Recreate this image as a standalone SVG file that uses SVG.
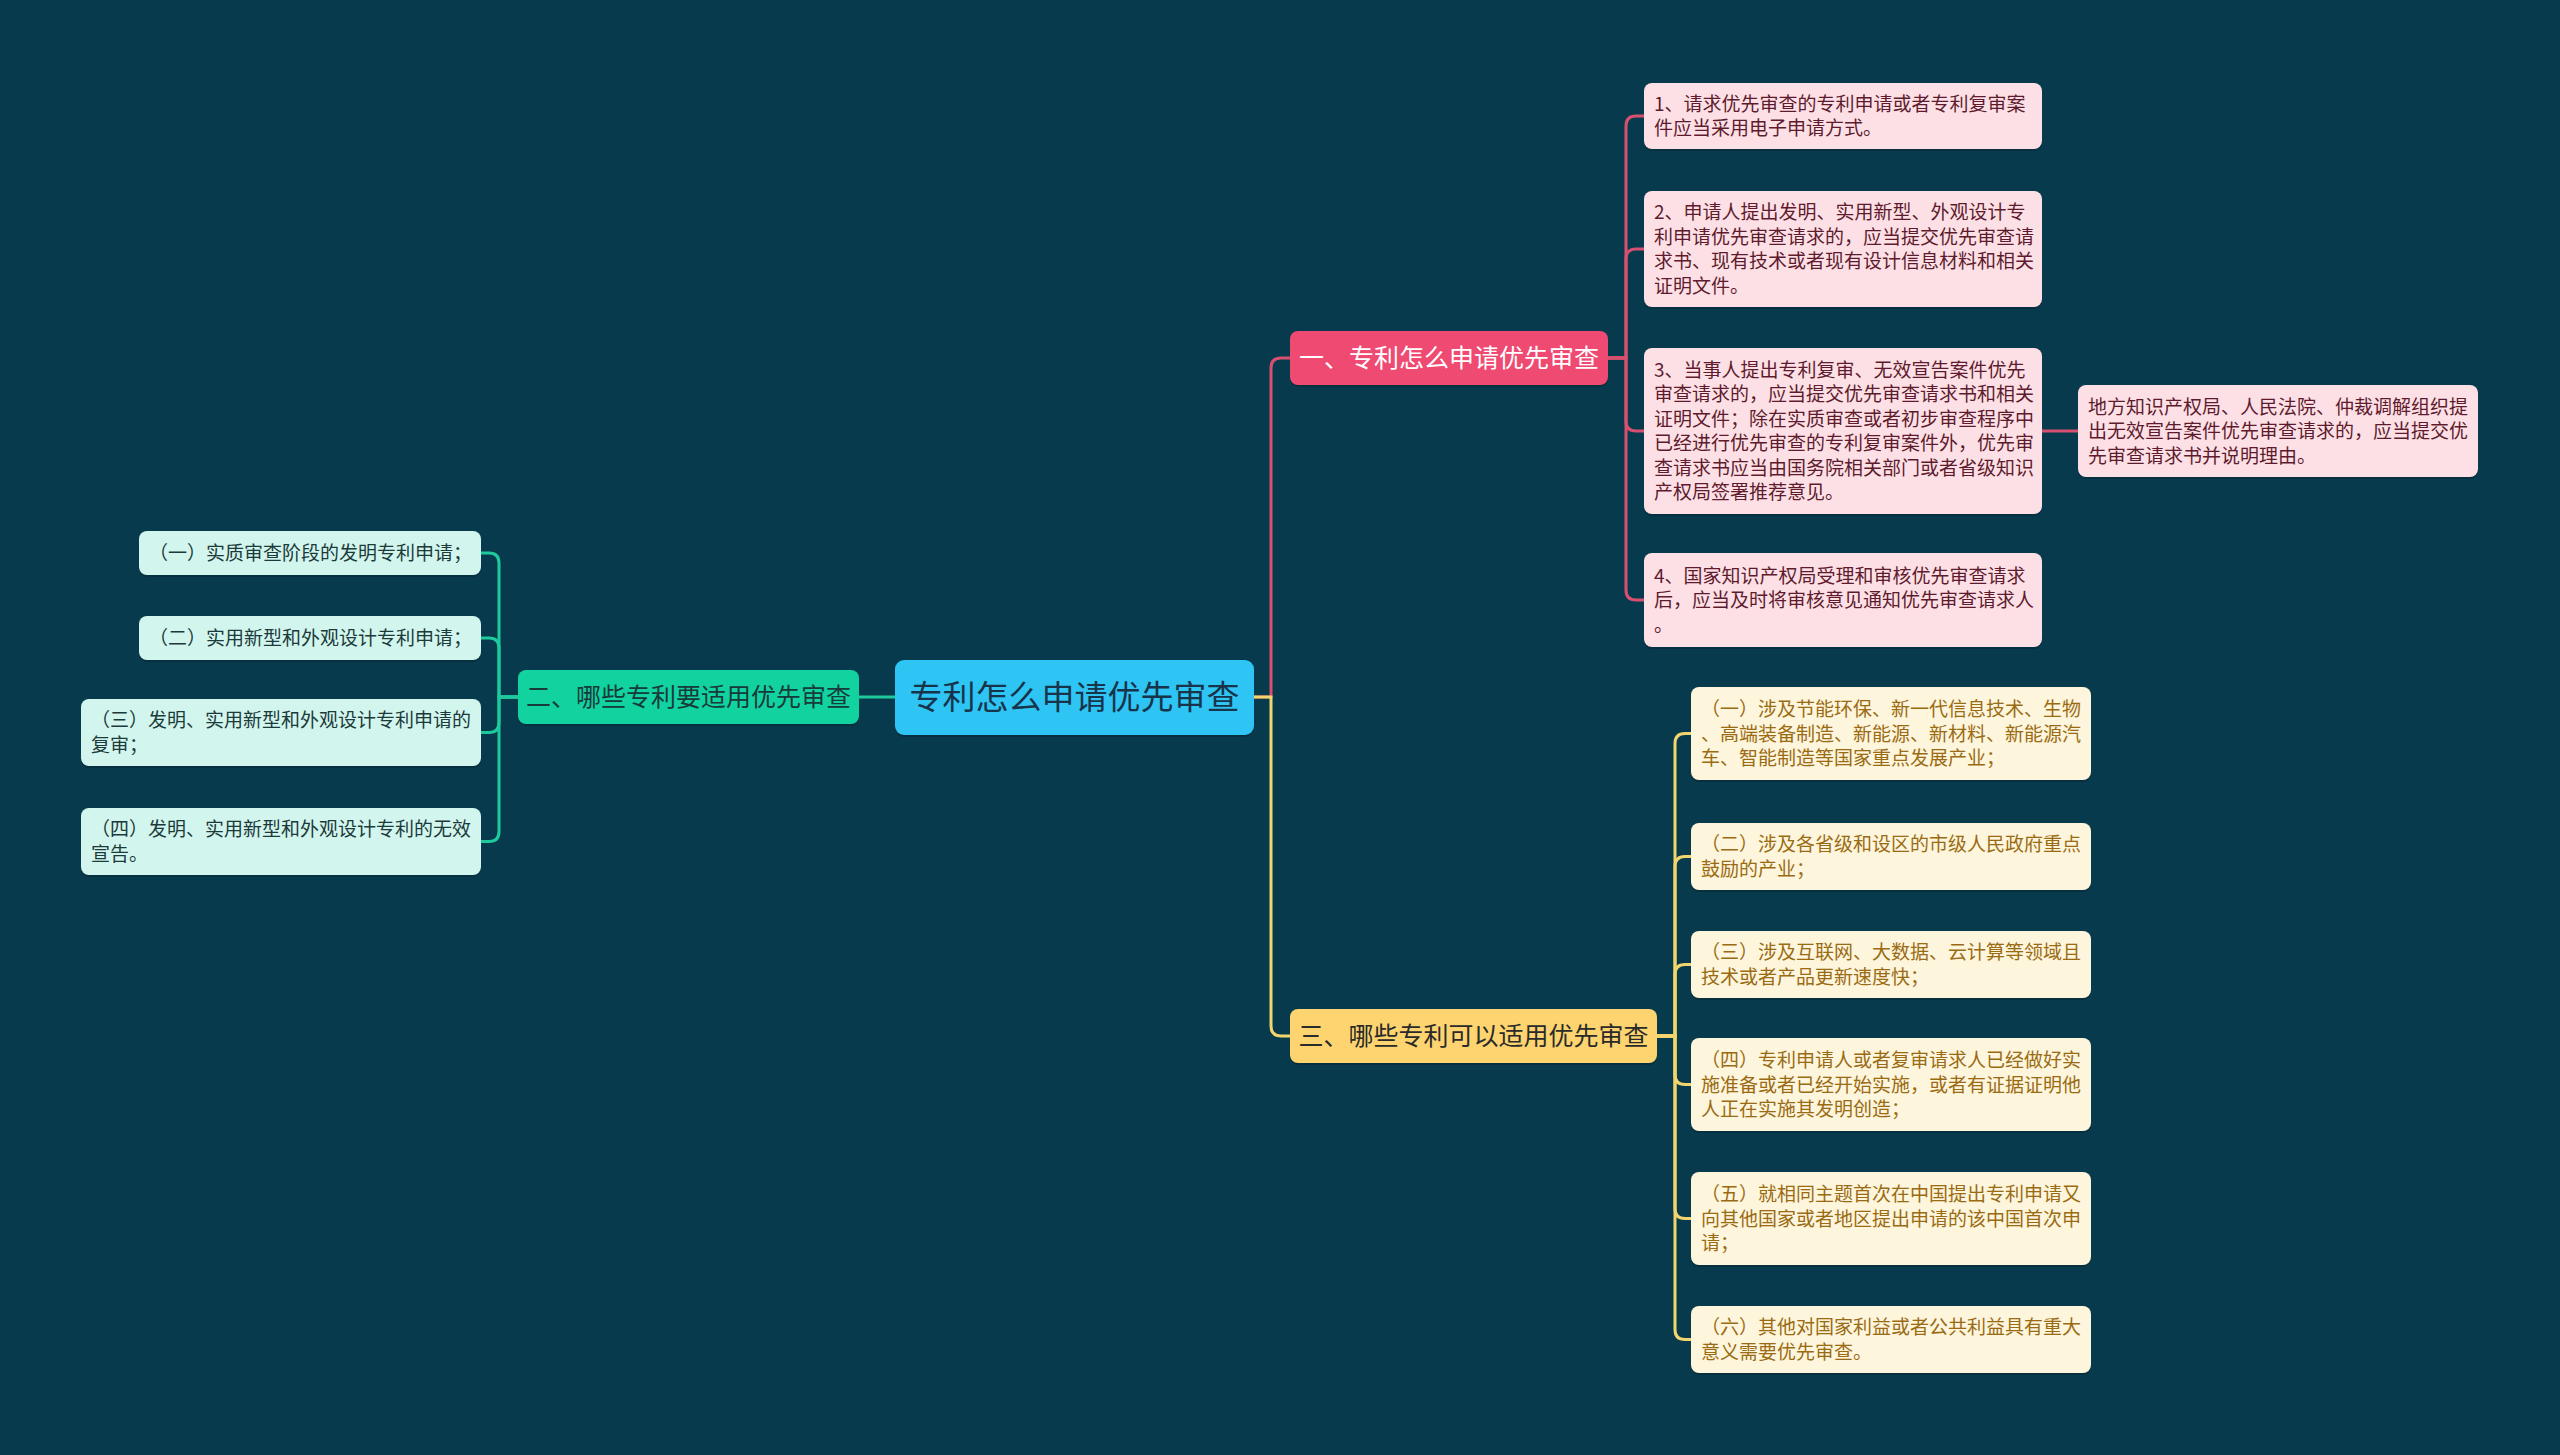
<svg xmlns="http://www.w3.org/2000/svg" width="2560" height="1455" viewBox="0 0 2560 1455">
<defs>
<style>
text{font-family:"Noto Sans CJK SC","Noto Sans",sans-serif;}
.sh{fill:#000;opacity:0.18;}
.root{fill:#2ec4f3;}
.rt{font-size:33px;fill:#17344a;}
.b1{fill:#ef4a72;}
.b1t{font-size:25px;fill:#ffffff;}
.b2{fill:#12d29f;}
.b2t{font-size:25px;fill:#173a3a;}
.b3{fill:#fdd46f;}
.b3t{font-size:25px;fill:#2a2a2a;}
.pk{fill:#fde0e6;}
.pkt{font-size:19px;fill:#5e1b2d;}
.cr{fill:#fdf5dc;}
.crt{font-size:19px;fill:#9a6b12;}
.mt{fill:#d2f6ee;}
.mtt{font-size:19px;fill:#1c3a3a;}
.lp{fill:none;stroke:#d8506f;stroke-width:3;}
.lg{fill:none;stroke:#1ec99b;stroke-width:3;}
.ly{fill:none;stroke:#f2d56c;stroke-width:3;}
</style>
</defs>
<rect width="2560" height="1455" fill="#083a4d"/>

<g id="connectors">
<path class="lp" d="M1254 697 H1271 V368 Q1271 358 1281 358 H1290"/>
<path class="ly" d="M1254 697 H1271 V1026 Q1271 1036 1281 1036 H1290"/>
<path class="lg" d="M895 697 H859"/>
<path class="lp" d="M1608 358 H1626 V126 Q1626 116 1636 116 H1644"/>
<path class="lp" d="M1608 358 H1626 V259 Q1626 249 1636 249 H1644"/>
<path class="lp" d="M1608 358 H1626 V421 Q1626 431 1636 431 H1644"/>
<path class="lp" d="M1608 358 H1626 V590 Q1626 600 1636 600 H1644"/>
<path class="lp" d="M2042 431 H2078"/>
<path class="ly" d="M1657 1036 H1675 V743.5 Q1675 733.5 1685 733.5 H1691"/>
<path class="ly" d="M1657 1036 H1675 V866.5 Q1675 856.5 1685 856.5 H1691"/>
<path class="ly" d="M1657 1036 H1675 V974.5 Q1675 964.5 1685 964.5 H1691"/>
<path class="ly" d="M1657 1036 H1675 V1074.5 Q1675 1084.5 1685 1084.5 H1691"/>
<path class="ly" d="M1657 1036 H1675 V1208.5 Q1675 1218.5 1685 1218.5 H1691"/>
<path class="ly" d="M1657 1036 H1675 V1329.5 Q1675 1339.5 1685 1339.5 H1691"/>
<path class="lg" d="M518 697 H499 V563 Q499 553 489 553 H481"/>
<path class="lg" d="M518 697 H499 V648 Q499 638 489 638 H481"/>
<path class="lg" d="M518 697 H499 V722.5 Q499 732.5 489 732.5 H481"/>
<path class="lg" d="M518 697 H499 V831.5 Q499 841.5 489 841.5 H481"/>
</g>

<g id="root">
<rect class="sh" x="895" y="662" width="359" height="75" rx="9"/>
<rect class="root" x="895" y="660" width="359" height="75" rx="9"/>
<text class="rt" x="1074.5" y="709" text-anchor="middle">专利怎么申请优先审查</text>
</g>

<g id="branch1">
<rect class="sh" x="1290" y="333" width="318" height="54" rx="8"/>
<rect class="b1" x="1290" y="331" width="318" height="54" rx="8"/>
<text class="b1t" x="1449" y="367" text-anchor="middle">一、专利怎么申请优先审查</text>
</g>

<g id="branch2">
<rect class="sh" x="518" y="672" width="341" height="54" rx="8"/>
<rect class="b2" x="518" y="670" width="341" height="54" rx="8"/>
<text class="b2t" x="688.5" y="706" text-anchor="middle">二、哪些专利要适用优先审查</text>
</g>

<g id="branch3">
<rect class="sh" x="1290" y="1011" width="367" height="54" rx="8"/>
<rect class="b3" x="1290" y="1009" width="367" height="54" rx="8"/>
<text class="b3t" x="1473.5" y="1045" text-anchor="middle">三、哪些专利可以适用优先审查</text>
</g>

<g id="p1">
<rect class="sh" x="1644" y="85" width="398" height="66" rx="8"/>
<rect class="pk" x="1644" y="83" width="398" height="66" rx="8"/>
<text class="pkt" x="1654" y="110.75">1、请求优先审查的专利申请或者专利复审案</text>
<text class="pkt" x="1654" y="135.25">件应当采用电子申请方式。</text>
</g>

<g id="p2">
<rect class="sh" x="1644" y="193" width="398" height="116" rx="8"/>
<rect class="pk" x="1644" y="191" width="398" height="116" rx="8"/>
<text class="pkt" x="1654" y="219.25">2、申请人提出发明、实用新型、外观设计专</text>
<text class="pkt" x="1654" y="243.75">利申请优先审查请求的，应当提交优先审查请</text>
<text class="pkt" x="1654" y="268.25">求书、现有技术或者现有设计信息材料和相关</text>
<text class="pkt" x="1654" y="292.75">证明文件。</text>
</g>

<g id="p3">
<rect class="sh" x="1644" y="350" width="398" height="166" rx="8"/>
<rect class="pk" x="1644" y="348" width="398" height="166" rx="8"/>
<text class="pkt" x="1654" y="376.75">3、当事人提出专利复审、无效宣告案件优先</text>
<text class="pkt" x="1654" y="401.25">审查请求的，应当提交优先审查请求书和相关</text>
<text class="pkt" x="1654" y="425.75">证明文件；除在实质审查或者初步审查程序中</text>
<text class="pkt" x="1654" y="450.25">已经进行优先审查的专利复审案件外，优先审</text>
<text class="pkt" x="1654" y="474.75">查请求书应当由国务院相关部门或者省级知识</text>
<text class="pkt" x="1654" y="499.25">产权局签署推荐意见。</text>
</g>

<g id="p3a">
<rect class="sh" x="2078" y="387" width="400" height="92" rx="8"/>
<rect class="pk" x="2078" y="385" width="400" height="92" rx="8"/>
<text class="pkt" x="2088" y="413.5">地方知识产权局、人民法院、仲裁调解组织提</text>
<text class="pkt" x="2088" y="438">出无效宣告案件优先审查请求的，应当提交优</text>
<text class="pkt" x="2088" y="462.5">先审查请求书并说明理由。</text>
</g>

<g id="p4">
<rect class="sh" x="1644" y="555" width="398" height="94" rx="8"/>
<rect class="pk" x="1644" y="553" width="398" height="94" rx="8"/>
<text class="pkt" x="1654" y="582.5">4、国家知识产权局受理和审核优先审查请求</text>
<text class="pkt" x="1654" y="607">后，应当及时将审核意见通知优先审查请求人</text>
<text class="pkt" x="1654" y="631.5">。</text>
</g>

<g id="c1">
<rect class="sh" x="1691" y="689" width="400" height="93" rx="8"/>
<rect class="cr" x="1691" y="687" width="400" height="93" rx="8"/>
<text class="crt" x="1701" y="716">（一）涉及节能环保、新一代信息技术、生物</text>
<text class="crt" x="1701" y="740.5">、高端装备制造、新能源、新材料、新能源汽</text>
<text class="crt" x="1701" y="765">车、智能制造等国家重点发展产业；</text>
</g>

<g id="c2">
<rect class="sh" x="1691" y="825" width="400" height="67" rx="8"/>
<rect class="cr" x="1691" y="823" width="400" height="67" rx="8"/>
<text class="crt" x="1701" y="851.25">（二）涉及各省级和设区的市级人民政府重点</text>
<text class="crt" x="1701" y="875.75">鼓励的产业；</text>
</g>

<g id="c3">
<rect class="sh" x="1691" y="933" width="400" height="67" rx="8"/>
<rect class="cr" x="1691" y="931" width="400" height="67" rx="8"/>
<text class="crt" x="1701" y="959.25">（三）涉及互联网、大数据、云计算等领域且</text>
<text class="crt" x="1701" y="983.75">技术或者产品更新速度快；</text>
</g>

<g id="c4">
<rect class="sh" x="1691" y="1040" width="400" height="93" rx="8"/>
<rect class="cr" x="1691" y="1038" width="400" height="93" rx="8"/>
<text class="crt" x="1701" y="1067">（四）专利申请人或者复审请求人已经做好实</text>
<text class="crt" x="1701" y="1091.5">施准备或者已经开始实施，或者有证据证明他</text>
<text class="crt" x="1701" y="1116">人正在实施其发明创造；</text>
</g>

<g id="c5">
<rect class="sh" x="1691" y="1174" width="400" height="93" rx="8"/>
<rect class="cr" x="1691" y="1172" width="400" height="93" rx="8"/>
<text class="crt" x="1701" y="1201">（五）就相同主题首次在中国提出专利申请又</text>
<text class="crt" x="1701" y="1225.5">向其他国家或者地区提出申请的该中国首次申</text>
<text class="crt" x="1701" y="1250">请；</text>
</g>

<g id="c6">
<rect class="sh" x="1691" y="1308" width="400" height="67" rx="8"/>
<rect class="cr" x="1691" y="1306" width="400" height="67" rx="8"/>
<text class="crt" x="1701" y="1334.25">（六）其他对国家利益或者公共利益具有重大</text>
<text class="crt" x="1701" y="1358.75">意义需要优先审查。</text>
</g>

<g id="m1">
<rect class="sh" x="139" y="533" width="342" height="44" rx="8"/>
<rect class="mt" x="139" y="531" width="342" height="44" rx="8"/>
<text class="mtt" x="149" y="560">（一）实质审查阶段的发明专利申请；</text>
</g>

<g id="m2">
<rect class="sh" x="139" y="618" width="342" height="44" rx="8"/>
<rect class="mt" x="139" y="616" width="342" height="44" rx="8"/>
<text class="mtt" x="149" y="645">（二）实用新型和外观设计专利申请；</text>
</g>

<g id="m3">
<rect class="sh" x="81" y="701" width="400" height="67" rx="8"/>
<rect class="mt" x="81" y="699" width="400" height="67" rx="8"/>
<text class="mtt" x="91" y="727.25">（三）发明、实用新型和外观设计专利申请的</text>
<text class="mtt" x="91" y="751.75">复审；</text>
</g>

<g id="m4">
<rect class="sh" x="81" y="810" width="400" height="67" rx="8"/>
<rect class="mt" x="81" y="808" width="400" height="67" rx="8"/>
<text class="mtt" x="91" y="836.25">（四）发明、实用新型和外观设计专利的无效</text>
<text class="mtt" x="91" y="860.75">宣告。</text>
</g>
</svg>
